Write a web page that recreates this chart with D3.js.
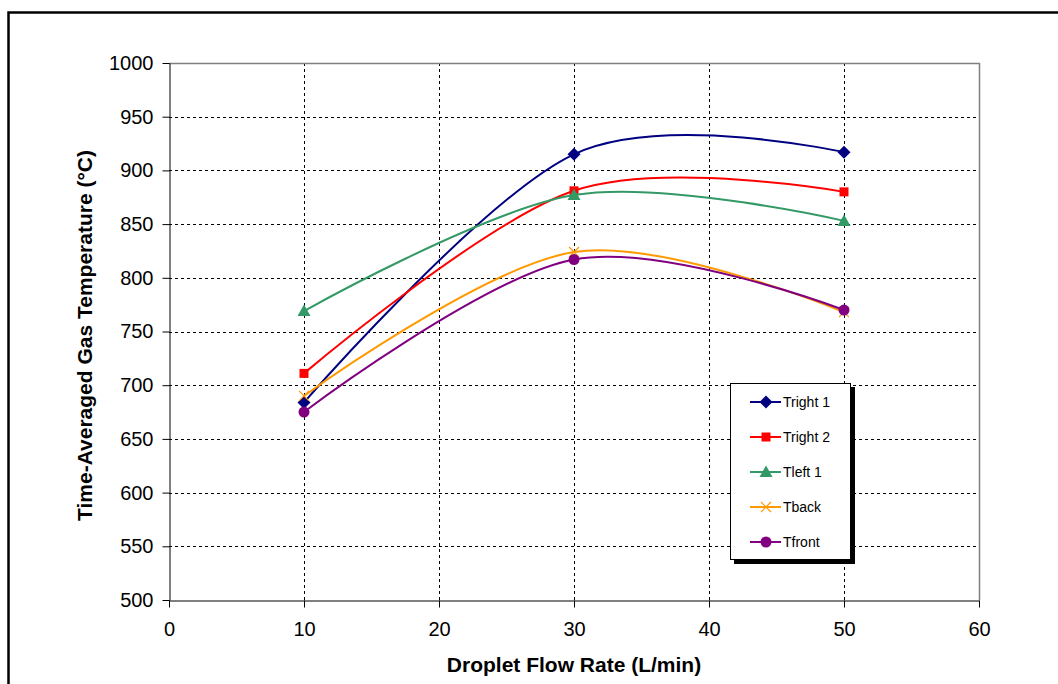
<!DOCTYPE html>
<html>
<head>
<meta charset="utf-8">
<script src="https://cdn.jsdelivr.net/npm/d3@7"></script>
<style>
  body { margin: 0; background: #fff; }
  svg { display: block; font-family: "Liberation Sans", Arial, sans-serif; }
</style>
</head>
<body>
<svg id="chart"></svg>
<script>
// data
const flowRates = [10, 30, 50];
const trRight1 = [684, 915, 917];
const trRight2 = [711, 881, 880];
const tLeft1 = [769, 877, 853];
const tBack = [690, 824, 768];
const tFront = [675, 817, 770];

const seriesNames = ["Tright 1", "Tright 2", "Tleft 1", "Tback", "Tfront"];
const seriesValues = [trRight1, trRight2, tLeft1, tBack, tFront];
const colors = ["#000080", "#ff0000", "#339966", "#ff9900", "#800080"];
const markers = ["diamond", "square", "triangle", "cross", "circle"];

const xTicks = [0, 10, 20, 30, 40, 50, 60];
const yTicks = d3.range(500, 1001, 50);

const width = 1058;
const height = 684;
const margin = { left: 169, right: 79, top: 63, bottom: 84 };

const svg = d3.select("#chart").attr("width", width).attr("height", height);

// outer frame (runs off right/bottom edge)
svg.append("rect")
  .attr("x", 8.5).attr("y", 12.5)
  .attr("width", 1060).attr("height", 700)
  .attr("fill", "none").attr("stroke", "#000").attr("stroke-width", 2.5);

const x = d3.scaleLinear().domain([0, 60]).range([margin.left, width - margin.right]);
const y = d3.scaleLinear().domain([500, 1000]).range([height - margin.bottom, margin.top]);

// grid
const grid = svg.append("g");
grid.selectAll("line.h")
  .data(yTicks.filter((d) => d > 500 && d < 1000))
  .join("line")
  .attr("x1", x(0)).attr("x2", x(60))
  .attr("y1", (d) => Math.round(y(d)) + 0.5).attr("y2", (d) => Math.round(y(d)) + 0.5)
  .attr("stroke", "#000").attr("stroke-dasharray", "3,3");
grid.selectAll("line.v")
  .data(xTicks.filter((d) => d > 0 && d < 60))
  .join("line")
  .attr("y1", y(500)).attr("y2", y(1000))
  .attr("x1", (d) => Math.round(x(d)) + 0.5).attr("x2", (d) => Math.round(x(d)) + 0.5)
  .attr("stroke", "#000").attr("stroke-dasharray", "3,3");

// plot area frame
svg.append("path")
  .attr("d", `M${x(0)},${y(1000) + 0.5}H${x(60) + 0.5}V${y(500)}`)
  .attr("fill", "none").attr("stroke", "#808080").attr("stroke-width", 1.5);

// axes
const yAxis = svg.append("g")
  .attr("transform", `translate(${x(0) + 0.5},0)`)
  .call(d3.axisLeft(y).tickValues(yTicks).tickFormat(d3.format("d"))
    .tickSize(7).tickPadding(9).tickSizeOuter(0));
const xAxis = svg.append("g")
  .attr("transform", `translate(0,${y(500) + 0.5})`)
  .call(d3.axisBottom(x).tickValues(xTicks).tickFormat(d3.format("d"))
    .tickSize(7).tickPadding(14).tickSizeOuter(0));
[xAxis, yAxis].forEach((a) => {
  a.attr("font-size", 20).attr("font-family", "Liberation Sans, Arial, sans-serif");
  a.select(".domain").attr("stroke", "#000");
  a.selectAll(".tick line").attr("stroke", "#000");
  a.selectAll("text").attr("fill", "#000");
});

// titles
svg.append("text")
  .text("Droplet Flow Rate (L/min)")
  .attr("x", x(30)).attr("y", 672)
  .attr("text-anchor", "middle")
  .attr("font-weight", "bold").attr("font-size", "21px");
svg.append("text")
  .text("Time-Averaged Gas Temperature (°C)")
  .attr("transform", `translate(92,${(y(500) + y(1000)) / 2 + 4}) rotate(-90)`)
  .attr("text-anchor", "middle")
  .attr("font-weight", "bold").attr("font-size", "21px");

// series
const line = d3.line()
  .x((d) => x(d[0]))
  .y((d) => y(d[1]))
  .curve(d3.curveCardinal.tension(0));

function drawMarker(g, type, color, cx, cy) {
  if (type === "diamond") {
    g.append("path").attr("d", `M${cx},${cy - 6.5}L${cx + 6.5},${cy}L${cx},${cy + 6.5}L${cx - 6.5},${cy}Z`).attr("fill", color);
  } else if (type === "square") {
    g.append("rect").attr("x", cx - 4.5).attr("y", cy - 4.5).attr("width", 9).attr("height", 9).attr("fill", color);
  } else if (type === "triangle") {
    g.append("path").attr("d", `M${cx},${cy - 6.5}L${cx + 6.5},${cy + 5}L${cx - 6.5},${cy + 5}Z`).attr("fill", color);
  } else if (type === "cross") {
    g.append("path").attr("d", `M${cx - 5},${cy - 5}L${cx + 5},${cy + 5}M${cx - 5},${cy + 5}L${cx + 5},${cy - 5}`)
      .attr("stroke", color).attr("stroke-width", 1.2);
  } else {
    g.append("circle").attr("cx", cx).attr("cy", cy).attr("r", 5.5).attr("fill", color);
  }
}

seriesValues.forEach((vals, i) => {
  const pts = flowRates.map((f, j) => [f, vals[j]]);
  const g = svg.append("g");
  g.append("path")
    .attr("d", line(pts))
    .attr("fill", "none")
    .attr("stroke", colors[i])
    .attr("stroke-width", 2);
  pts.forEach((p) => drawMarker(g, markers[i], colors[i], x(p[0]), y(p[1])));
});

// legend
const lg = svg.append("g").attr("transform", "translate(730,383)");
lg.append("rect").attr("x", 4).attr("y", 4).attr("width", 121).attr("height", 177).attr("fill", "#000");
lg.append("rect").attr("x", 0.5).attr("y", 0.5).attr("width", 120).attr("height", 176)
  .attr("fill", "#fff").attr("stroke", "#000");
seriesNames.forEach((name, i) => {
  const cy = 19 + i * 35;
  const row = lg.append("g");
  row.append("line").attr("x1", 20).attr("x2", 51).attr("y1", cy).attr("y2", cy)
    .attr("stroke", colors[i]).attr("stroke-width", 2);
  drawMarker(row, markers[i], colors[i], 36, cy);
  row.append("text").text(name).attr("x", 53).attr("y", cy + 5)
    .attr("font-size", "14px").attr("fill", "#000");
});
</script>
</body>
</html>
